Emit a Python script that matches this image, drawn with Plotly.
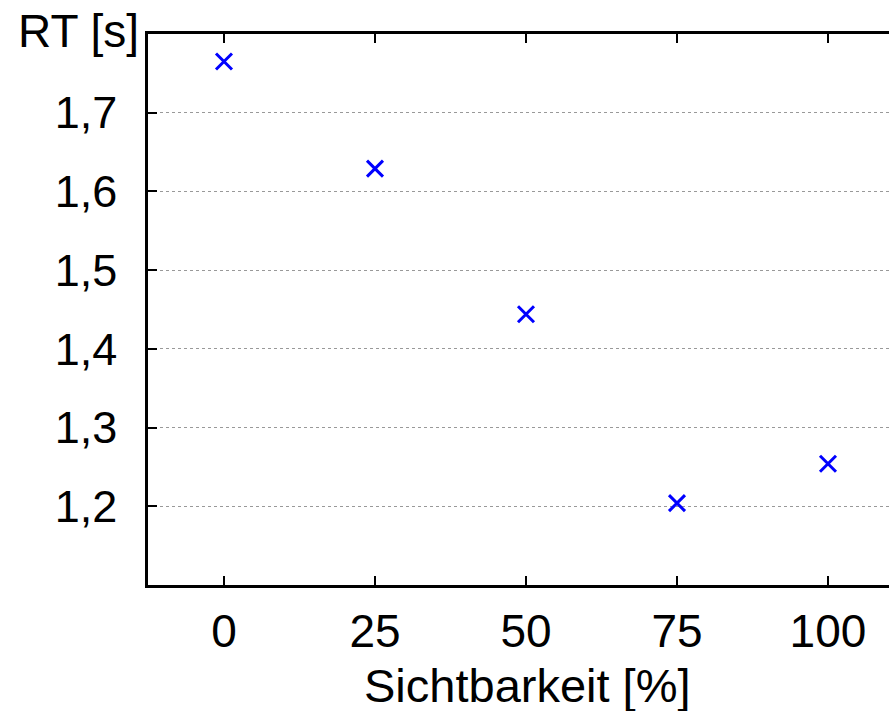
import plotly.graph_objects as go

visibility = [0, 25, 50, 75, 100]
rt_values = [1.765, 1.629, 1.444, 1.204, 1.254]
x_ticks = [0, 25, 50, 75, 100]
y_ticks = [1.2, 1.3, 1.4, 1.5, 1.6, 1.7]

FONT = "Liberation Sans, Arial, sans-serif"

W, H = 889, 711
L, R, T, B = 148, 0, 34, 126
pw, ph = W - L - R, H - T - B


def px_to_paper(px, py):
    return (px - L) / pw, 1 - (py - T) / ph


fig = go.Figure()
fig.add_trace(go.Scatter(
    x=visibility, y=rt_values, mode="markers",
    marker=dict(symbol="x-thin-open", size=16, color="#0000FF",
                line=dict(color="#0000FF", width=3)),
    showlegend=False,
))

ax, ay = px_to_paper(78, 31)
bx, by = px_to_paper(527, 685)

fig.update_layout(
    width=W, height=H,
    margin=dict(l=L, r=R, t=T, b=B),
    plot_bgcolor="white", paper_bgcolor="white",
    separators=",.",
    font=dict(family=FONT, size=46, color="black"),
    xaxis=dict(
        range=[-12.58, 110.1], tickvals=x_ticks,
        showline=True, linecolor="black", linewidth=2.5,
        mirror="ticks", ticks="inside", ticklen=9, tickwidth=2, tickcolor="black",
        showgrid=False, zeroline=False,
        ticklabelstandoff=4,
        tickfont=dict(size=46),
    ),
    yaxis=dict(
        range=[1.1, 1.8], tickvals=y_ticks, tickformat=".1f",
        showline=True, linecolor="black", linewidth=2.5,
        mirror=False, ticks="inside", ticklen=9, tickwidth=2, tickcolor="black",
        showgrid=True, gridcolor="#999999", gridwidth=1, griddash="dot",
        zeroline=False,
        ticklabelstandoff=19,
        tickfont=dict(size=45),
    ),
    annotations=[
        dict(text="RT [s]", x=ax, y=ay, xref="paper", yref="paper",
             showarrow=False, font=dict(size=46), xanchor="center", yanchor="middle"),
        dict(text="Sichtbarkeit [%]", x=bx, y=by, xref="paper", yref="paper",
             showarrow=False, font=dict(size=47), xanchor="center", yanchor="middle"),
    ],
)

fig.write_html("out.html")
